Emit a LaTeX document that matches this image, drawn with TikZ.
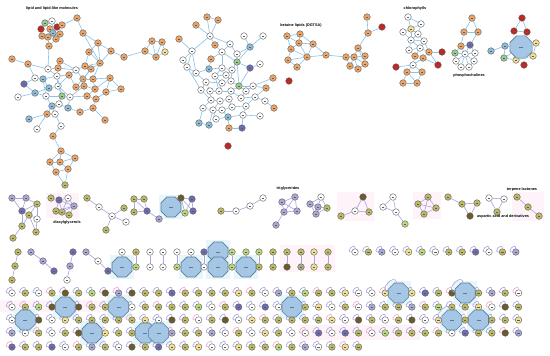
\documentclass[tikz,border=0pt]{standalone}
\usepackage{fontspec}
\setsansfont{Liberation Sans}
\usetikzlibrary{shapes.geometric}
\definecolor{Or}{HTML}{EFA466}
\definecolor{Wh}{HTML}{FFFFFF}
\definecolor{Rd}{HTML}{C8231E}
\definecolor{Bl}{HTML}{8DBCDC}
\definecolor{Gr}{HTML}{9ACC8E}
\definecolor{Pu}{HTML}{6E6CB4}
\definecolor{Ye}{HTML}{F2E08E}
\definecolor{Ol}{HTML}{BDBA62}
\definecolor{Og}{HTML}{A9AC86}
\definecolor{Lv}{HTML}{A9A8D8}
\definecolor{Lg}{HTML}{BCD97A}
\definecolor{Br}{HTML}{6E5A24}
\definecolor{Ink}{HTML}{5C5C5C}
\definecolor{Hub}{HTML}{A6C6E6}
\definecolor{HubLine}{HTML}{5C7A98}
\definecolor{EdgeTop}{HTML}{86C2EC}
\definecolor{EdgeBot}{HTML}{A7A3E4}
\definecolor{EdgePk}{HTML}{EFA6D2}
\definecolor{Halo}{HTML}{E6F6FA}
\definecolor{PinkBg}{HTML}{FDF3F8}

\begin{document}
\begin{tikzpicture}[x=0.5pt,y=-0.5pt,
  mol/.style={circle,draw=Ink,line width=0.2pt,minimum size=3.3pt,inner sep=0pt,
    path picture={\draw[Ink,line width=0.12pt] ([xshift=-0.55pt]path picture bounding box.center) -- ([xshift=0.55pt]path picture bounding box.center);}},
  hub/.style={regular polygon,regular polygon sides=8,draw=HubLine,fill=Hub,line width=0.3pt,minimum size=10.8pt,inner sep=0pt,
    path picture={\draw[HubLine,line width=0.12pt] ([xshift=-1pt]path picture bounding box.center) -- ([xshift=1pt]path picture bounding box.center);}},
  etop/.style={EdgeTop,line width=0.3pt},
  ebot/.style={EdgeBot,line width=0.3pt},
  epk/.style={EdgePk,line width=0.3pt},
  grp/.style={font=\sffamily\bfseries\fontsize{1.9}{2.1}\selectfont,inner sep=0pt}]
  \useasboundingbox (0,0) rectangle (550,355);
  \fill[white] (0,0) rectangle (550,355);
  \foreach \xa/\ya/\xb/\yb in {337/192/374/221,413/192/441/219,512/192/544/221,280/245/335/272,46/193/79/218,0/300/120/312,300/325/420/340}
    \fill[PinkBg] (\xa,\ya) rectangle (\xb,\yb);
  \foreach \x/\y in {171/207,122/267,191/267,218/252,218/267,246/267,65.3/307,118.6/307,25.3/320,92/333,145.3/333,158.6/333,292/307,398.6/293,465.2/293,451.9/320,478.6/320}
    \fill[Halo] (\x-12,\y-12) rectangle (\x+12,\y+12);

  \foreach \n/\x/\y/\c in {
    L1/52/21/Wh,L2/45/23/Gr,L3/57/27/Rd,L4/41/29/Rd,L5/50/29/Or,L6/62/25/Or,L7/53/33/Bl,L8/60/34/Or,
    L9/42/36/Or,L10/48/37/Or,L11/56/39/Or,L12/49/46/Or,L13/77/18/Or,L14/83/33/Or,L15/98/43/Or,
    L16/89/52/Or,L17/111/51/Or,L18/124/57/Or,L19/100/63/Or,L20/91/69/Or,L21/85/66/Or,L22/145/51/Or,
    L23/152/41/Or,L24/162/42/Or,L25/165/52/Ye,L26/156/57/Or,L27/12/59/Or,L28/28/64/Or,L29/60/61/Or,
    L30/48/69/Wh,L31/58/68/Or,L32/76/70/Wh,L33/69/75/Or,L34/35/78/Wh,L35/43/79/Bl,L36/57/76/Wh,
    L37/24/84/Pu,L38/49/88/Bl,L39/58/86/Wh,L40/35/93/Bl,L41/46/96/Wh,L42/62/96/Gr,L43/70/97/Wh,
    L44/18/97/Wh,L45/52/106/Bl,L46/59/104/Wh,L47/68/108/Bl,L48/47/114/Or,L49/55/114/Wh,L50/29/119/Bl,
    L51/37/129/Wh,L52/61/126/Wh,L53/53/136/Or,L54/61/151/Or,L55/50/162/Or,L56/60/162/Or,L57/75/158/Or,
    L58/56/172/Or,L59/68/169/Or,L60/65/185/Ol,L61/83/79/Or,L62/93/79/Or,L63/84/86/Or,L64/76/87/Or,
    L65/95/89/Or,L66/110/78/Or,L67/106/92/Or,L68/121/89/Or,L69/87/96/Or,L70/96/99/Or,L71/93/108/Or,
    L72/80/112/Or,L73/105/120/Or}
    \node[mol,fill=\c] (\n) at (\x,\y) {};
  \foreach \n/\x/\y/\c in {
    C1/207/17/Or,C2/218/20/Or,C3/196/25/Or,C4/210/36/Wh,C5/244/36/Wh,C6/263/36/Wh,C7/215/45/Or,
    C8/230/44/Wh,C9/250/47/Bl,C10/192/51/Wh,C11/222/52/Wh,C12/237/54/Wh,C13/260/64/Wh,C14/211/59/Or,
    C15/237/62/Gr,C16/250/68/Pu,C17/183/60/Wh,C18/209/69/Bl,C19/222/68/Wh,C20/232/70/Wh,C22/187/67/Wh,
    C23/196/73/Wh,C24/215/76/Wh,C25/226/75/Wh,C26/206/82/Wh,C28/222/83/Wh,C29/231/81/Wh,C30/239/86/Gr,
    C31/246/91/Wh,C32/253/86/Wh,C33/273/78/Or,C34/266/88/Or,C35/201/90/Wh,C36/210/91/Wh,C37/219/91/Wh,
    C38/231/91/Wh,C39/241/98/Wh,C40/255/97/Wh,C41/265/101/Wh,C42/274/108/Or,C43/211/100/Wh,
    C44/220/101/Wh,C45/229/99/Wh,C46/203/108/Wh,C47/213/110/Wh,C48/222/110/Wh,C49/232/107/Wh,
    C50/246/106/Wh,C52/228/117/Bl,C53/243/115/Wh,C54/216/119/Wh,C55/260/116/Wh,C56/199/123/Bl,
    C57/209/125/Bl,C58/229/128/Or,C59/242/128/Pu,C60/228/146/Rd,C61/179/39/Or}
    \node[mol,fill=\c] (\n) at (\x,\y) {};
  \foreach \n/\x/\y/\c in {
    B1/287/36/Or,B2/300/34/Or,B3/299/43/Or,B4/291/49/Or,B5/313/44/Or,B6/307/57/Or,B7/288/60/Or,
    B8/297/67/Or,B9/326/55/Or,B10/289/81/Rd,B11/346/57/Or,B12/354/57/Or,B13/358/48/Or,B14/365/56/Or,
    B15/350/66/Or,B16/358/69/Or,B17/365/64/Or,B18/368/33/Or,B19/367/17/Or,B20/382/27/Rd,
    H1/408/17/Wh,H2/403/32/Wh,H3/411/29/Ye,H4/421/24/Wh,H5/418/34/Wh,H6/411/40/Wh,H7/424/41/Wh,
    H8/409/50/Wh,H9/420/48/Wh,H10/415/56/Or,H11/429/52/Or,H12/423/58/Or,H13/442/52/Rd,H14/438/65/Rd,
    H15/413/65/Wh,H16/396/67/Rd,H17/407/72/Or,H18/422/72/Or,H19/403/83/Or,H20/417/83/Or,
    P1/472/18/Or,P2/464/32/Or,P3/478/32/Or,P4/461/46/Or,P5/470/45/Pu,P6/455/53/Gr,P7/465/54/Wh,
    P8/475/53/Wh,P9/456/61/Wh,P10/474/61/Wh,P11/461/67/Wh,P12/469/67/Wh,
    R1/522/18/Rd,R2/514/31/Rd,R3/527/32/Rd,R5/505/46/Bl,R6/491/51/Bl,R7/504/58/Gr,R8/516/60/Ye,
    R9/536/43/Ye,R10/533/56/Ye,R11/524/65/Rd}
    \node[mol,fill=\c] (\n) at (\x,\y) {};
  \node[hub,minimum size=12pt] (R4) at (521,47) {};

  \foreach \a/\b in {
    L1/L2,L1/L3,L2/L4,L2/L5,L3/L6,L3/L7,L4/L9,L5/L7,L5/L10,L7/L8,L7/L11,L9/L10,L10/L11,L8/L11,
    L10/L12,L11/L12,L6/L8,L1/L7,L7/L10,L12/L30,L6/L13,L13/L14,L14/L15,L15/L16,L15/L17,L17/L18,
    L18/L22,L22/L23,L22/L26,L23/L24,L24/L25,L25/L26,L23/L26,L24/L26,L16/L19,L15/L19,L19/L20,
    L19/L21,L16/L21,L17/L19,L19/L62,L20/L61,L21/L32,L20/L64,L14/L19,L27/L28,L28/L30,L28/L34,
    L30/L31,L29/L31,L30/L36,L31/L32,L32/L33,L33/L36,L34/L35,L35/L36,L34/L37,L35/L38,L36/L39,
    L38/L39,L37/L40,L38/L40,L39/L42,L40/L41,L40/L44,L41/L42,L42/L43,L41/L45,L45/L46,L46/L47,
    L42/L46,L43/L47,L45/L48,L48/L49,L49/L52,L48/L50,L48/L51,L45/L49,L52/L53,L53/L54,L54/L55,
    L54/L56,L54/L57,L55/L56,L56/L57,L55/L58,L56/L59,L58/L59,L57/L59,L58/L60,L59/L60,L35/L41,
    L33/L39,L39/L43,L36/L42,L61/L62,L61/L63,L62/L65,L63/L64,L63/L65,L64/L33,L62/L66,L65/L66,
    L66/L67,L67/L68,L66/L68,L65/L69,L69/L70,L70/L71,L71/L72,L71/L73,L69/L43,L63/L43,L72/L47,
    L67/L70,L32/L61,L29/L32}
    \draw[etop] (\a) -- (\b);
  \foreach \a/\b in {
    C1/C4,C2/C4,C3/C4,C1/C2,C4/C7,C4/C10,C4/C8,C5/C9,C6/C9,C8/C11,C8/C12,C7/C11,C9/C12,C9/C15,
    C11/C14,C11/C15,C12/C15,C10/C17,C10/C22,C10/C23,C14/C18,C11/C19,C15/C20,C15/C16,C16/C13,
    C16/C30,C15/C30,C18/C19,C19/C20,C18/C23,C22/C23,C23/C26,C24/C25,C19/C24,C20/C25,C24/C28,
    C25/C29,C26/C28,C28/C29,C29/C30,C30/C31,C30/C32,C31/C32,C32/C33,C32/C34,C31/C39,C30/C38,
    C26/C35,C26/C36,C28/C37,C36/C37,C37/C38,C38/C39,C39/C40,C40/C41,C41/C42,C34/C40,C35/C43,
    C36/C43,C43/C44,C44/C45,C45/C49,C45/C38,C43/C46,C44/C47,C47/C48,C48/C49,C49/C50,C50/C53,
    C50/C40,C46/C47,C48/C52,C52/C53,C47/C54,C54/C52,C53/C55,C46/C56,C47/C57,C56/C57,C52/C58,
    C53/C59,C58/C59,C17/C22,C22/C35,C61/C10,C24/C37,C20/C29,
    B1/B2,B1/B3,B2/B3,B1/B4,B3/B4,B3/B5,B2/B5,B4/B6,B5/B6,B4/B7,B6/B7,B7/B8,B6/B8,B3/B6,B5/B9,
    B6/B9,B9/B11,B11/B12,B12/B13,B12/B14,B13/B14,B12/B15,B12/B16,B15/B16,B16/B17,B14/B17,B13/B17,
    B11/B15,B13/B18,B18/B19,B18/B20,B12/B17,
    H1/H3,H1/H4,H2/H3,H3/H4,H3/H5,H4/H5,H2/H6,H3/H6,H5/H6,H5/H7,H6/H7,H6/H8,H6/H9,H7/H9,H8/H9,
    H8/H10,H9/H10,H7/H11,H9/H11,H10/H12,H11/H12,H11/H13,H12/H14,H11/H14,H10/H15,H12/H15,
    H15/H16,H15/H17,H15/H18,H17/H18,H17/H19,H18/H20,H19/H20,H17/H20,
    P1/P2,P1/P3,P2/P3,P2/P4,P3/P5,P4/P5,P4/P6,P4/P7,P5/P7,P5/P8,P6/P7,P7/P8,P6/P9,P7/P9,P8/P10,
    P7/P10,P9/P11,P10/P12,P11/P12,P7/P11,P7/P12,
    R1/R2,R1/R3,R2/R3,R4/R5,R5/R6,R5/R7,R4/R7,R4/R8,R7/R8,R4/R9,R4/R10,R9/R10,R8/R10}
    \draw[etop] (\a) -- (\b);

  \foreach \n/\x/\y/\c in {
    A1/12/198/Lv,A2/26/198/Lv,A3/22/211/Pu,A4/37/204/Ol,A5/29/215/Ol,A6/37/219/Wh,A7/22/226/Ol,
    A8/36/232/Ol,A9/13/238/Ol,
    D1/51/198/Ol,D2/59/200/Pu,D3/68/198/Wh,D4/74/206/Lv,D5/56/211/Ol,D6/62/212/Ol,D7/69/215/Ol,
    E1/87/198/Ol,E2/99/207/Wh,E3/112/216/Wh,E4/124/208/Ol,E5/126/222/Wh,E6/106/230/Ol,
    F1/134/199/Ol,F2/144/199/Ol,F3/134/212/Ol,F4/147/211/Pu,F5/159/219/Lv,
    G2/181/198/Br,G3/192/199/Pu,G4/185/213/Lg,G5/193/211/Pu,
    I1/221/211/Ol,I2/236/211/Wh,I3/250/206/Wh,I4/263/198/Wh,
    T1/282/202/Lv,T2/295/197/Lv,T3/297/211/Lv,T4/284/212/Lv,T5/276/225/Lv,
    J1/321/197/Wh,J2/310/204/Lv,J3/318/207/Lv,J4/327/208/Ol,J5/316/214/Lv,
    K1/363/197/Br,K2/355/211/Wh,K3/369/212/Ol,K4/341/216/Ol,
    N1/393/197/Wh,N2/383/207/Wh,N3/396/212/Wh,N4/405/224/Lg,
    O1/428/197/Ol,O2/418/204/Ol,O3/436/208/Ol,O4/424/214/Ol,
    Q1/448/197/Ol,Q2/462/204/Ol,Q3/477/203/Ol,Q4/470/216/Br,
    S1/489/198/Wh,S2/504/199/Wh,S3/497/212/Ol,
    U1/517/197/Ol,U2/528/207/Ol,U3/539/216/Ol,
    W1/18/252/Ol,W2/15/266/Ol,W3/12/280/Ol,W4/31/252/Lv,W5/43/261/Lv,W6/54/271/Pu,
    W7/73/252/Pu,W8/70/266/Lv,W9/67/280/Wh,W10/86/252/Lv,W11/98/261/Wh,W12/108/271/Pu}
    \node[mol,fill=\c] (\n) at (\x,\y) {};
  \node[hub] (G1) at (171,207) {};
  \foreach \k/\x/\ct/\cb in {1/122/Wh/Lg,2/136/Ol/Lg,3/150/Wh/Wh,4/163/Wh/Wh,5/177/Wh/Lg,6/191/Wh/Wh,
    7/204/Pu/Wh,8/218/Wh/Wh,9/232/Lg/Lg,10/246/Lg/Wh,11/259/Lg/Ol,12/273/Ol/Ol,13/287/Ol/Br,
    14/301/Ol/Og,15/314/Ye/Ye,16/328/Ol/Ol} {
    \node[mol,fill=\ct] (pt\k) at (\x,252) {};
    \node[mol,fill=\cb] (pb\k) at (\x,267) {};
    \draw[ebot] (pt\k) -- (pb\k);
  }
  \foreach \n/\x/\y in {X1/122/267,X2/191/267,X3/218/252,X4/218/267,X5/246/267}
    \node[hub] (\n) at (\x,\y) {};
  \foreach \a/\b in {
    A1/A2,A1/A3,A2/A3,A3/A4,A3/A5,A4/A5,A4/A6,A5/A6,A3/A7,A5/A7,A6/A8,A5/A8,A7/A9,A2/A4,
    D1/D2,D2/D3,D2/D4,D3/D4,D2/D5,D2/D6,D4/D5,D4/D6,D4/D7,D5/D6,D6/D7,D3/D6,
    E1/E2,E2/E3,E3/E4,E3/E5,E3/E6,F1/F2,F1/F3,F1/F4,F2/F4,F3/F4,F4/F5,
    G2/G3,G2/G4,G2/G5,G3/G4,G3/G5,G4/G5,I1/I2,I2/I3,I3/I4,
    T1/T2,T2/T3,T1/T3,T1/T4,T3/T4,T2/T4,T4/T5,J1/J2,J1/J3,J1/J4,J2/J3,J3/J4,J2/J5,J3/J5,J4/J5,
    K1/K2,K1/K3,K2/K3,K2/K4,N1/N2,N1/N3,N2/N3,N3/N4,O1/O2,O1/O3,O2/O4,O3/O4,O1/O4,O2/O3,
    Q1/Q2,Q2/Q3,Q2/Q4,Q3/Q4,S1/S2,S2/S3,S1/S3,U1/U2,U2/U3,
    W1/W2,W2/W3,W4/W5,W5/W6,W7/W8,W8/W9,W10/W11,W11/W12,W12/X1}
    \draw[ebot] (\a) -- (\b);

  \foreach \i/\c in {0/Wh,1/Ol,2/Lv,3/Wh,4/Ye,5/Lg,6/Wh,7/Ol,8/Ol,9/Pu,10/Wh,11/Ol,12/Lv} {
    \node[mol,fill=\c] (s\i) at (355+13.4*\i,252) {};
    \draw[ebot] (s\i) to[out=90,in=180,looseness=3.5] (s\i);
  }
  \foreach \r/\yy/\kmax in {1/293/38,2/307/38,3/320/38,4/333/38,5/347/26} {
    \foreach \k in {0,...,\kmax} {
      \pgfmathtruncatemacro{\ci}{mod(\k*5+\r*3+mod(\k*\k,7)+\r*\k,16)}
      \pgfmathparse{{"Wh","Ol","Ol","Wh","Lv","Ol","Wh","Ol","Lg","Wh","Ol","Ye","Lv","Br","Ol","Pu"}[\ci]}
      \edef\cc{\pgfmathresult}
      \pgfmathtruncatemacro{\pk}{mod(\k+2*\r,5)}
      \node[mol,fill=\cc] (g\r-\k) at (12+13.33*\k,\yy) {};
      \ifnum\pk=0
        \draw[epk] (g\r-\k) to[out=90,in=180,looseness=3.5] (g\r-\k);
      \else
        \draw[ebot] (g\r-\k) to[out=90,in=180,looseness=3.5] (g\r-\k);
      \fi
    }
  }
  \foreach \r/\k in {2/4,2/8,3/1,4/6,4/10,4/11,2/21,1/29,1/34,3/33,3/35}
    \node[hub] (h\r-\k) at (g\r-\k) {};
  \foreach \n in {h1-29,h1-34,h3-33}
    \draw[ebot] (\n) to[out=100,in=175,looseness=2.2] (\n);

  \node[grp] (lipidlab) at (52,9) {lipid and lipid-like molecules};
  \node[grp] (betainelab) at (301,26) {betaine lipids (DGTSA)};
  \node[grp] (chlorolab) at (415,9) {chlorophylls};
  \node[grp] (phoslab) at (469,76) {phosphocholines};
  \node[grp] (diacyllab) at (67,223) {diacylglycerols};
  \node[grp] (triglab) at (288,189) {triglycerides};
  \node[grp] (asparlab) at (503,217) {aspartic acid and derivatives};
  \node[grp] (terpenelab) at (522,190) {terpene lactones};
\end{tikzpicture}
\end{document}
